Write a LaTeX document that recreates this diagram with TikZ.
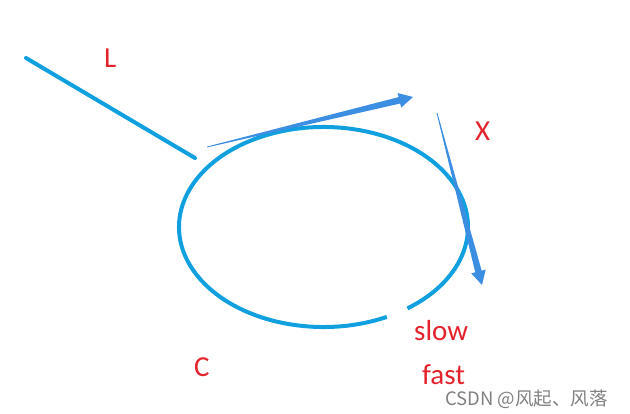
\documentclass[tikz,border=0pt]{standalone}
\usepackage{fontspec}
\setmainfont{Carlito}
\newfontfamily\cjk{Noto Sans CJK SC}
\usetikzlibrary{calc}

\definecolor{ringblue}{RGB}{16,160,224}
\definecolor{arrowblue}{RGB}{60,142,226}
\definecolor{labelred}{RGB}{228,34,44}

\tikzset{
    lbl/.style={text=labelred, font=\fontsize{29}{29}\selectfont, inner sep=0pt, anchor=base west},
    ring/.style={draw=ringblue, line width=4pt},
}

% tapered arrow from #1 (thin) to #2 (tip)
\newcommand\taperarrow[2]{%
    \coordinate (neck) at ($(#2)!14pt!(#1)$);
    \fill[arrowblue] ($(#1)!0.4pt!90:(#2)$) -- ($(neck)!3.3pt!-90:(#1)$)
        -- ($(neck)!7.5pt!-90:(#1)$) -- (#2) -- ($(neck)!7.5pt!90:(#1)$)
        -- ($(neck)!3.3pt!90:(#1)$) -- ($(#1)!0.4pt!-90:(#2)$) -- cycle;
}

\begin{document}
\begin{tikzpicture}[x=1pt,y=-1pt]
    \useasboundingbox (0,0) rectangle (630,413);

	\coordinate (lstart) at (26,58);
	\coordinate (lend)   at (195,158);
	\coordinate (centre) at (323.5,227);

	\coordinate (a1) at (207,147);
	\coordinate (t1) at (413,97);
	\coordinate (a2) at (437,113);
	\coordinate (t2) at (482,285);

    \draw [ring, line cap=round] (lstart) -- (lend);
    \draw [ring] (centre) ++(64:144.5 and 100)
        arc [start angle=64, end angle=414.5, x radius=144.5, y radius=100];

    \taperarrow{a1}{t1}
    \taperarrow{a2}{t2}

	 \node (labL) at (104,67)  [lbl] {L};
	 \node (labX) at (475,140) [lbl] {X};
	 \node (labC) at (194,376) [lbl] {C};
	 \node (slow) at (414,340) [lbl] {slow};
	 \node (fast) at (422,384) [lbl, text depth=0pt] {fast};

	 \node (mark) at (445,405) [anchor=base west, inner sep=0pt, text=black!50,
	     text height=13.5pt, font=\cjk\fontsize{18.5}{18.5}\selectfont] {CSDN @风起、风落};
\end{tikzpicture}
\end{document}
